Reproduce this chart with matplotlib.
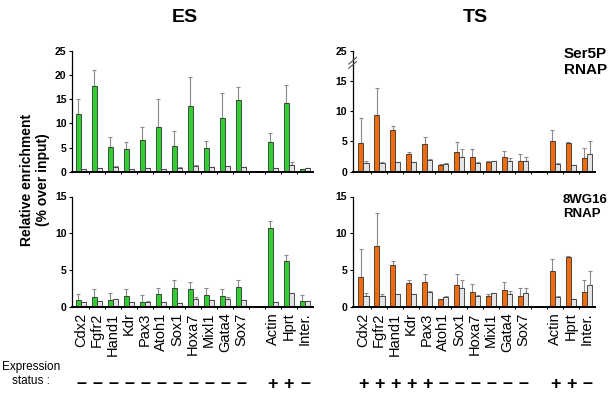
import matplotlib
matplotlib.use("Agg")
import matplotlib.pyplot as plt
import matplotlib.transforms as mtransforms
import numpy as np

plt.rcParams['font.family'] = ['Liberation Sans', 'DejaVu Sans']

genes = ["Cdx2", "Fgfr2", "Hand1", "Kdr", "Pax3", "Atoh1", "Sox1", "Hoxa7",
         "Mixl1", "Gata4", "Sox7", "Actin", "Hprt", "Inter."]
slots = [0, 1, 2, 3, 4, 5, 6, 7, 8, 9, 10, 12, 13, 14]

# ES, Ser5P RNAP
es_s5_ip = [12.0, 17.8, 5.1, 4.7, 6.5, 9.3, 5.3, 13.6, 4.8, 11.1, 14.9, 6.1, 14.1, 0.6]
es_s5_ip_err = [3.1, 3.3, 2.1, 1.5, 2.7, 5.7, 3.1, 6.0, 1.5, 5.1, 2.7, 1.8, 3.9, 0.0]
es_s5_ctl = [0.6, 0.7, 1.0, 0.6, 0.7, 0.6, 0.8, 1.1, 1.0, 1.1, 0.9, 0.7, 1.3, 0.8]
es_s5_ctl_err = [0.0, 0.0, 0.1, 0.0, 0.0, 0.0, 0.1, 0.2, 0.0, 0.1, 0.0, 0.0, 0.7, 0.0]

# ES, 8WG16 RNAP
es_8w_ip = [0.86, 1.36, 0.9, 1.5, 0.63, 1.67, 2.6, 2.4, 1.6, 1.5, 2.7, 10.7, 6.2, 0.72]
es_8w_ip_err = [0.9, 1.05, 0.95, 0.9, 0.97, 0.93, 1.0, 0.9, 0.9, 0.85, 0.9, 0.95, 0.9, 0.9]
es_8w_ctl = [0.63, 0.8, 1.0, 0.6, 0.6, 0.7, 0.45, 1.0, 0.9, 1.0, 0.85, 0.6, 1.8, 0.75]
es_8w_ctl_err = [0.0, 0.0, 0.05, 0.0, 0.2, 0.0, 0.0, 0.3, 0.05, 0.3, 0.0, 0.0, 0.0, 0.05]

# TS, Ser5P RNAP
ts_s5_ip = [4.8, 9.3, 6.9, 2.9, 4.6, 1.1, 3.2, 2.4, 1.6, 2.4, 1.7, 5.1, 4.7, 2.3]
ts_s5_ip_err = [4.0, 4.5, 0.6, 0.3, 1.1, 0.1, 1.7, 1.3, 0.2, 1.1, 1.2, 1.8, 0.2, 1.6]
ts_s5_ctl = [1.4, 1.5, 1.6, 1.6, 2.0, 1.26, 2.5, 1.5, 1.8, 1.8, 1.8, 1.35, 1.1, 2.9]
ts_s5_ctl_err = [0.3, 0.05, 0.05, 0.0, 0.1, 0.15, 1.2, 0.1, 0.0, 0.4, 0.7, 0.15, 0.0, 2.1]

# TS, 8WG16 RNAP
ts_8w_ip = [4.0, 8.2, 5.65, 3.25, 3.4, 1.05, 2.9, 2.0, 1.5, 2.25, 1.4, 4.8, 6.7, 2.0]
ts_8w_ip_err = [3.9, 4.5, 0.55, 0.35, 1.1, 0.05, 1.6, 1.1, 0.2, 1.05, 1.2, 1.7, 0.2, 1.6]
ts_8w_ctl = [1.5, 1.5, 1.7, 1.7, 2.0, 1.3, 2.55, 1.4, 1.9, 1.7, 1.9, 1.35, 1.05, 3.0]
ts_8w_ctl_err = [0.3, 0.2, 0.0, 0.0, 0.1, 0.2, 1.15, 0.2, 0.0, 0.4, 0.6, 0.15, 0.05, 1.9]

es_status = ["–"] * 11 + ["+", "+", "–"]
ts_status = ["+"] * 5 + ["–"] * 6 + ["+", "+", "–"]

GREEN = "#33cc33"
ORANGE = "#f06a10"
GRAY = "#e4e4e4"
EDGE = "#333333"
ERRC = "#8a8a8a"

W, H = 610, 398
fig = plt.figure(figsize=(W / 100, H / 100), dpi=100)


def px_axes(x0, x1, ytop, ybot):
    return fig.add_axes([x0 / W, 1 - ybot / H, (x1 - x0) / W, (ybot - ytop) / H])


def draw(ax, ip, ip_err, ctl, ctl_err, color, ymax, ticks, ticklabels, xlim, show_labels):
    x = np.array(slots, dtype=float)
    bw = 0.33
    ax.bar(x - bw / 2, ip, bw, color=color, edgecolor=EDGE, linewidth=0.6, zorder=2)
    ax.bar(x + bw / 2, ctl, bw, color=GRAY, edgecolor=EDGE, linewidth=0.6, zorder=2)
    ax.errorbar(x - bw / 2, ip, yerr=[np.zeros(len(ip)), ip_err], fmt="none",
                ecolor=ERRC, elinewidth=0.8, capsize=1.2, capthick=0.8, zorder=1)
    ax.errorbar(x + bw / 2, ctl, yerr=[np.zeros(len(ctl)), ctl_err], fmt="none",
                ecolor=ERRC, elinewidth=0.8, capsize=1.2, capthick=0.8, zorder=1)
    ax.set_xlim(*xlim)
    ax.set_ylim(0, ymax)
    ax.set_yticks(ticks)
    ax.set_yticklabels(ticklabels, fontsize=7.5, fontweight="bold")
    ax.tick_params(axis="y", length=2.5, width=0.8, pad=1.5)
    for s in ("top", "right"):
        ax.spines[s].set_visible(False)
    ax.spines["left"].set_linewidth(0.9)
    ax.spines["bottom"].set_linewidth(1.4)
    ax.set_facecolor("none")
    ax.set_xticks([s + 0.5 for s in range(0, 14)], minor=True)
    ax.tick_params(axis="x", which="minor", length=1.5, width=0.7)
    if show_labels:
        ax.set_xticks(x)
        ax.set_xticklabels(genes, rotation=90, fontsize=10.5)
        ax.tick_params(axis="x", which="major", length=0, pad=4)
    else:
        ax.set_xticks([])


es_xlim = (-0.56, 14.5)
ts_xlim = (-0.66, 14.5)

ax1 = px_axes(72, 313, 50.7, 171.7)
draw(ax1, es_s5_ip, es_s5_ip_err, es_s5_ctl, es_s5_ctl_err, GREEN, 25,
     [0, 5, 10, 15, 20, 25], ["0", "5", "10", "15", "20", "25"], es_xlim, False)

ax2 = px_axes(352.7, 595, 50.7, 171.7)
draw(ax2, ts_s5_ip, ts_s5_ip_err, ts_s5_ctl, ts_s5_ctl_err, ORANGE, 20,
     [0, 5, 10, 15, 20], ["0", "5", "10", "15", "25"], ts_xlim, False)
# axis break marks
for dy in (-0.35, 0.35):
    ax2.plot([-0.9, -0.42], [18.0 + dy - 0.55, 18.0 + dy + 0.55], color="#555555",
             lw=0.8, clip_on=False, zorder=5)

ax3 = px_axes(72, 313, 196.5, 306.7)
draw(ax3, es_8w_ip, es_8w_ip_err, es_8w_ctl, es_8w_ctl_err, GREEN, 15,
     [0, 5, 10, 15], ["0", "5", "10", "15"], es_xlim, True)

ax4 = px_axes(352.7, 595, 196.5, 306.7)
draw(ax4, ts_8w_ip, ts_8w_ip_err, ts_8w_ctl, ts_8w_ctl_err, ORANGE, 15,
     [0, 5, 10, 15], ["0", "5", "10", "15"], ts_xlim, True)

# titles
fig.text(185 / W, 1 - 18 / H, "ES", fontsize=14, fontweight="bold", ha="center", va="center")
fig.text(475 / W, 1 - 18 / H, "TS", fontsize=14, fontweight="bold", ha="center", va="center")
fig.text(564 / W, 1 - 47 / H, "Ser5P\nRNAP", fontsize=11, fontweight="bold", ha="left",
         va="top", linespacing=1.15)
fig.text(563 / W, 1 - 194 / H, "8WG16\nRNAP", fontsize=9.5, fontweight="bold", ha="left",
         va="top", linespacing=1.25)

# y label
fig.text(35 / W, 1 - 180 / H, "Relative enrichment\n(% over input)", rotation=90,
         fontsize=10, fontweight="bold", ha="center", va="center", linespacing=1.1)

# expression status
fig.text(31 / W, 1 - 374 / H, "Expression\nstatus :", fontsize=8.5, ha="center", va="center",
         linespacing=1.25)
for ax, status in ((ax3, es_status), (ax4, ts_status)):
    tr = mtransforms.blended_transform_factory(ax.transData, fig.transFigure)
    for s, sym in zip(slots, status):
        ax.text(s, 1 - 384 / H, sym, transform=tr, fontsize=13, fontweight="bold",
                ha="center", va="center")

fig.savefig("out.png", dpi=100)
